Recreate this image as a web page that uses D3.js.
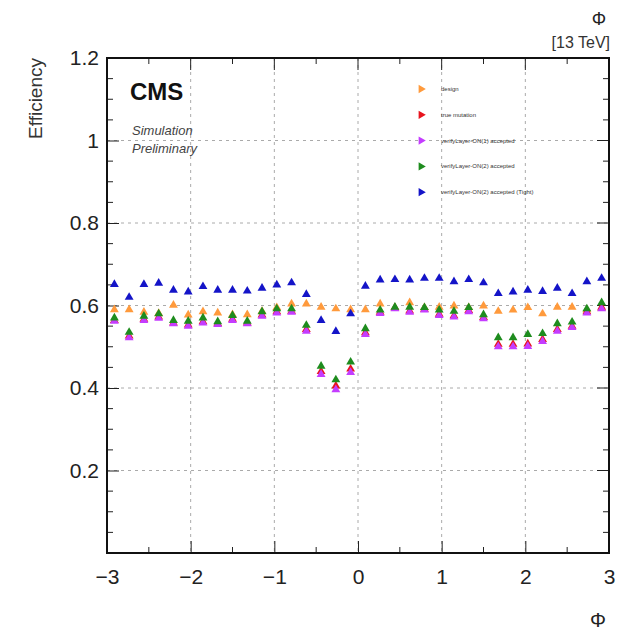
<!DOCTYPE html>
<html><head><meta charset="utf-8">
<script src="https://cdn.jsdelivr.net/npm/d3@7"></script>
<style>body{margin:0;background:#fff}svg{display:block}text{font-family:"Liberation Sans",Arial,sans-serif}</style>
</head><body>
<script>
const nBins = 34;
const xMin = -3, xMax = 3;
const seriesNames = ["design", "true mutation", "verifyLayer-ON(1) accepted", "verifyLayer-ON(2) accepted", "verifyLayer-ON(2) accepted (Tight)"];
const seriesColors = ["#ff9a3c", "#e8141e", "#c43cff", "#1e8c1e", "#1414c8"];
const orange = [0.590,0.590,0.584,0.581,0.601,0.577,0.585,0.582,0.578,0.578,0.586,0.595,0.604,0.604,0.596,0.592,0.590,0.590,0.604,0.595,0.607,0.595,0.596,0.599,0.595,0.599,0.586,0.589,0.595,0.580,0.596,0.596,0.590,0.593];
const red = [0.564,0.526,0.567,0.572,0.558,0.553,0.561,0.556,0.567,0.558,0.577,0.585,0.586,0.542,0.440,0.405,0.446,0.534,0.584,0.594,0.587,0.591,0.579,0.575,0.588,0.571,0.506,0.506,0.507,0.518,0.542,0.550,0.585,0.596];
const purple = [0.562,0.522,0.564,0.569,0.556,0.550,0.558,0.554,0.564,0.556,0.574,0.582,0.584,0.538,0.433,0.396,0.438,0.530,0.581,0.592,0.584,0.589,0.576,0.572,0.585,0.568,0.500,0.500,0.501,0.513,0.538,0.547,0.582,0.592];
const green = [0.570,0.535,0.574,0.580,0.564,0.562,0.570,0.561,0.576,0.562,0.585,0.592,0.592,0.552,0.453,0.420,0.463,0.544,0.589,0.596,0.596,0.595,0.589,0.586,0.595,0.578,0.522,0.522,0.530,0.532,0.556,0.560,0.592,0.607];
const blue = [0.651,0.620,0.651,0.654,0.637,0.633,0.646,0.637,0.637,0.635,0.642,0.650,0.655,0.627,0.564,0.537,0.580,0.647,0.662,0.663,0.662,0.666,0.666,0.658,0.663,0.655,0.629,0.633,0.637,0.634,0.642,0.629,0.658,0.666];
const xTicks = [-3,-2,-1,0,1,2,3];
const yTicks = [0.2,0.4,0.6,0.8,1,1.2];
const seriesValues = [orange, red, purple, green, blue];

const W = 619, H = 632;
const L = 107, R = 609, T = 58, B = 553;
const svg = d3.select("body").append("svg").attr("width", W).attr("height", H);
const x = d3.scaleLinear().domain([xMin, xMax]).range([L, R]);
const y = d3.scaleLinear().domain([0, 1.2]).range([B, T]);
const binW = (xMax - xMin) / nBins;
const centers = d3.range(nBins).map(i => xMin + (i + 0.5) * binW);

// grid
const grid = svg.append("g").attr("stroke", "#aaa").attr("stroke-width", 1).attr("stroke-dasharray", "3,4");
xTicks.slice(1, -1).forEach(v => grid.append("line").attr("x1", x(v)).attr("x2", x(v)).attr("y1", T).attr("y2", B));
yTicks.slice(0, -1).forEach(v => grid.append("line").attr("y1", y(v)).attr("y2", y(v)).attr("x1", L).attr("x2", R));

// axes with inward ticks
const ax = svg.append("g");
const xAxB = d3.axisBottom(x).tickValues(xTicks).tickSize(-12).tickPadding(16).tickFormat(d => d < 0 ? "\u2212" + Math.abs(d) : d);
const gx = ax.append("g").attr("transform", `translate(0,${B})`).call(xAxB);
gx.selectAll("text").attr("font-size", 21).attr("fill", "#222");
const xMinor = d3.range(-2.5, 3, 1);
const yAxL = d3.axisLeft(y).tickValues(yTicks).tickSize(-12).tickPadding(8).tickFormat(d => d === 1 ? "1" : d3.format(".1f")(d));
const gy = ax.append("g").attr("transform", `translate(${L},0)`).call(yAxL);
gy.selectAll("text").attr("font-size", 21).attr("fill", "#222");
[gx, gy].forEach(g => { g.select(".domain").remove(); g.selectAll("line").attr("stroke", "#222"); });
const mt = svg.append("g").attr("stroke", "#222");
xMinor.forEach(v => { mt.append("line").attr("x1", x(v)).attr("x2", x(v)).attr("y1", B).attr("y2", B - 6);
  mt.append("line").attr("x1", x(v)).attr("x2", x(v)).attr("y1", T).attr("y2", T + 6); });
xTicks.forEach(v => mt.append("line").attr("x1", x(v)).attr("x2", x(v)).attr("y1", T).attr("y2", T + 12));
const yMinor = d3.range(0.05, 1.2, 0.05).filter(v => Math.abs(v * 5 - Math.round(v * 5)) > 0.01);
yMinor.forEach(v => { mt.append("line").attr("y1", y(v)).attr("y2", y(v)).attr("x1", L).attr("x2", L + 6);
  mt.append("line").attr("y1", y(v)).attr("y2", y(v)).attr("x1", R).attr("x2", R - 6); });
yTicks.forEach(v => mt.append("line").attr("y1", y(v)).attr("y2", y(v)).attr("x1", R).attr("x2", R - 12));
svg.append("rect").attr("x", L).attr("y", T).attr("width", R - L).attr("height", B - T)
  .attr("fill", "none").attr("stroke", "#111").attr("stroke-width", 2);

// data
const sym = d3.symbol().type(d3.symbolTriangle).size(34);
seriesValues.forEach((vals, s) => {
  svg.append("g").selectAll("path").data(vals).join("path")
    .attr("d", sym)
    .attr("transform", (d, i) => `translate(${x(centers[i])},${y(d)})`)
    .attr("fill", seriesColors[s]);
});

// legend
const lg = svg.append("g");
seriesNames.forEach((n, i) => {
  const ly = 89 + i * 25.8;
  lg.append("path").attr("d", d3.symbol().type(d3.symbolTriangle).size(30)).attr("transform", `translate(421,${ly}) rotate(90)`).attr("fill", seriesColors[i]);
  lg.append("text").attr("x", 441).attr("y", ly + 2).attr("font-size", 6).attr("fill", "#333").text(n);
});

// labels
svg.append("text").attr("x", 130).attr("y", 100).attr("font-size", 24).attr("font-weight", "bold").attr("fill", "#111").text("CMS");
svg.append("text").attr("x", 132).attr("y", 135).attr("font-size", 13).attr("font-style", "italic").attr("fill", "#444").text("Simulation");
svg.append("text").attr("x", 132).attr("y", 153).attr("font-size", 13).attr("font-style", "italic").attr("fill", "#444").text("Preliminary");
svg.append("text").attr("transform", `translate(42,${T}) rotate(-90)`).attr("text-anchor", "end").attr("font-size", 19).attr("fill", "#333").text("Efficiency");
svg.append("text").attr("x", 606).attr("y", 627).attr("text-anchor", "end").attr("font-size", 20).attr("fill", "#222").text("\u03A6");
svg.append("text").attr("x", 606).attr("y", 25).attr("text-anchor", "end").attr("font-size", 18).attr("fill", "#222").text("\u03A6");
svg.append("text").attr("x", 610).attr("y", 48).attr("text-anchor", "end").attr("font-size", 16).attr("fill", "#333").text("[13 TeV]");
</script>
</body></html>
